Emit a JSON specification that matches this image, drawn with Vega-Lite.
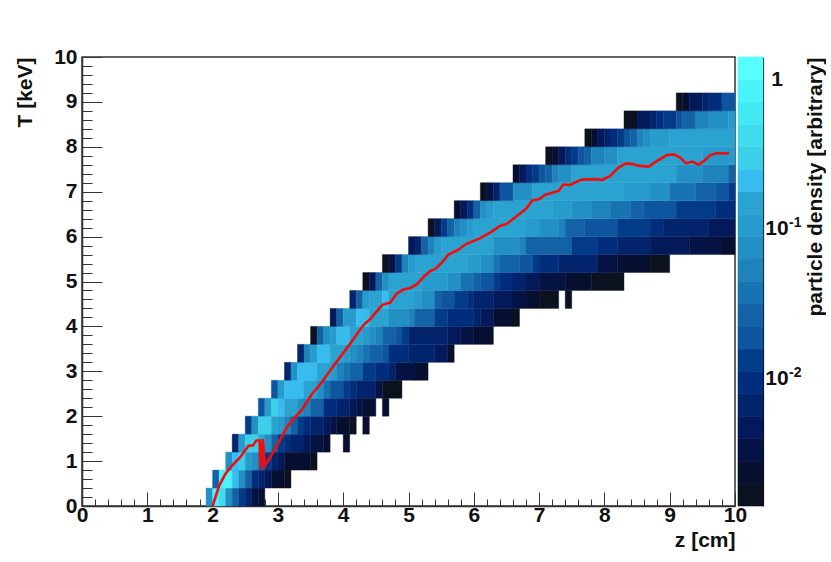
{"$schema":"https://vega.github.io/schema/vega-lite/v6.json","padding":{"left":13,"top":45,"right":0,"bottom":0},"background":"white","config":{"font":"Liberation Sans","axis":{"grid":false,"labelFontWeight":"bold","titleFontWeight":"bold","labelFontSize":21,"titleFontSize":21,"labelColor":"#111","titleColor":"#111","zindex":1}},"bounds":"flush","spacing":3,"hconcat":[{"width":653,"height":449,"view":{"stroke":"#333","strokeWidth":1.5},"layer":[{"data":{"values":[
{"z0":1.9,"z1":2,"t0":0,"t1":0.4,"d":0.072},{"z0":2,"z1":2.1,"t0":0,"t1":0.4,"d":0.8},{"z0":2.1,"z1":2.2,"t0":0,"t1":0.4,"d":0.4},{"z0":2.2,"z1":2.3,"t0":0,"t1":0.4,"d":0.072},{"z0":2.3,"z1":2.4,"t0":0,"t1":0.4,"d":0.0254},{"z0":2.4,"z1":2.5,"t0":0,"t1":0.4,"d":0.0127},{"z0":2.5,"z1":2.6,"t0":0,"t1":0.4,"d":0.0064},{"z0":2.6,"z1":2.7,"t0":0,"t1":0.4,"d":0.0032},{"z0":2.7,"z1":2.8,"t0":0,"t1":0.4,"d":0.0023},
{"z0":2,"z1":2.1,"t0":0.4,"t1":0.8,"d":0.0254},{"z0":2.1,"z1":2.3,"t0":0.4,"t1":0.8,"d":0.8},{"z0":2.3,"z1":2.4,"t0":0.4,"t1":0.8,"d":0.2},{"z0":2.4,"z1":2.5,"t0":0.4,"t1":0.8,"d":0.072},{"z0":2.5,"z1":2.6,"t0":0.4,"t1":0.8,"d":0.0254},{"z0":2.6,"z1":2.7,"t0":0.4,"t1":0.8,"d":0.009},{"z0":2.7,"z1":2.8,"t0":0.4,"t1":0.8,"d":0.0064},{"z0":2.8,"z1":2.9,"t0":0.4,"t1":0.8,"d":0.0045},{"z0":2.9,"z1":3.1,"t0":0.4,"t1":0.8,"d":0.0023},{"z0":3.1,"z1":3.2,"t0":0.4,"t1":0.8,"d":0.0016},
{"z0":2.2,"z1":2.3,"t0":0.8,"t1":1.2,"d":0.072},{"z0":2.3,"z1":2.4,"t0":0.8,"t1":1.2,"d":0.2},{"z0":2.4,"z1":2.5,"t0":0.8,"t1":1.2,"d":0.29},{"z0":2.5,"z1":2.6,"t0":0.8,"t1":1.2,"d":0.1},{"z0":2.6,"z1":2.7,"t0":0.8,"t1":1.2,"d":0.072},{"z0":2.7,"z1":2.8,"t0":0.8,"t1":1.2,"d":0.0254},{"z0":2.8,"z1":2.9,"t0":0.8,"t1":1.2,"d":0.0127},{"z0":2.9,"z1":3,"t0":0.8,"t1":1.2,"d":0.0064},{"z0":3,"z1":3.1,"t0":0.8,"t1":1.2,"d":0.0045},{"z0":3.1,"z1":3.5,"t0":0.8,"t1":1.2,"d":0.0023},{"z0":3.5,"z1":3.6,"t0":0.8,"t1":1.2,"d":0.0016},
{"z0":2.3,"z1":2.4,"t0":1.2,"t1":1.6,"d":0.0064},{"z0":2.4,"z1":2.5,"t0":1.2,"t1":1.6,"d":0.1},{"z0":2.5,"z1":2.7,"t0":1.2,"t1":1.6,"d":0.29},{"z0":2.7,"z1":2.8,"t0":1.2,"t1":1.6,"d":0.14},{"z0":2.8,"z1":2.9,"t0":1.2,"t1":1.6,"d":0.072},{"z0":2.9,"z1":3,"t0":1.2,"t1":1.6,"d":0.0254},{"z0":3,"z1":3.1,"t0":1.2,"t1":1.6,"d":0.0127},{"z0":3.1,"z1":3.2,"t0":1.2,"t1":1.6,"d":0.009},{"z0":3.2,"z1":3.4,"t0":1.2,"t1":1.6,"d":0.0064},{"z0":3.4,"z1":3.5,"t0":1.2,"t1":1.6,"d":0.0045},{"z0":3.5,"z1":3.7,"t0":1.2,"t1":1.6,"d":0.0032},{"z0":3.7,"z1":3.8,"t0":1.2,"t1":1.6,"d":0.0023},{"z0":4,"z1":4.1,"t0":1.2,"t1":1.6,"d":0.0023},
{"z0":2.5,"z1":2.6,"t0":1.6,"t1":2,"d":0.0127},{"z0":2.6,"z1":2.7,"t0":1.6,"t1":2,"d":0.072},{"z0":2.7,"z1":2.9,"t0":1.6,"t1":2,"d":0.29},{"z0":2.9,"z1":3,"t0":1.6,"t1":2,"d":0.14},{"z0":3,"z1":3.1,"t0":1.6,"t1":2,"d":0.1},{"z0":3.1,"z1":3.2,"t0":1.6,"t1":2,"d":0.05},{"z0":3.2,"z1":3.3,"t0":1.6,"t1":2,"d":0.0254},{"z0":3.3,"z1":3.4,"t0":1.6,"t1":2,"d":0.0127},{"z0":3.4,"z1":3.5,"t0":1.6,"t1":2,"d":0.009},{"z0":3.5,"z1":3.7,"t0":1.6,"t1":2,"d":0.0064},{"z0":3.7,"z1":3.8,"t0":1.6,"t1":2,"d":0.0045},{"z0":3.8,"z1":3.9,"t0":1.6,"t1":2,"d":0.0032},{"z0":3.9,"z1":4.1,"t0":1.6,"t1":2,"d":0.0023},{"z0":4.1,"z1":4.2,"t0":1.6,"t1":2,"d":0.0016},{"z0":4.3,"z1":4.4,"t0":1.6,"t1":2,"d":0.0023},
{"z0":2.7,"z1":2.8,"t0":2,"t1":2.4,"d":0.018},{"z0":2.8,"z1":2.9,"t0":2,"t1":2.4,"d":0.1},{"z0":2.9,"z1":3,"t0":2,"t1":2.4,"d":0.29},{"z0":3,"z1":3.1,"t0":2,"t1":2.4,"d":0.2},{"z0":3.1,"z1":3.3,"t0":2,"t1":2.4,"d":0.14},{"z0":3.3,"z1":3.4,"t0":2,"t1":2.4,"d":0.072},{"z0":3.4,"z1":3.5,"t0":2,"t1":2.4,"d":0.05},{"z0":3.5,"z1":3.7,"t0":2,"t1":2.4,"d":0.0254},{"z0":3.7,"z1":3.9,"t0":2,"t1":2.4,"d":0.009},{"z0":3.9,"z1":4.1,"t0":2,"t1":2.4,"d":0.0064},{"z0":4.1,"z1":4.2,"t0":2,"t1":2.4,"d":0.0045},{"z0":4.2,"z1":4.3,"t0":2,"t1":2.4,"d":0.0032},{"z0":4.3,"z1":4.5,"t0":2,"t1":2.4,"d":0.0023},{"z0":4.6,"z1":4.7,"t0":2,"t1":2.4,"d":0.0023},
{"z0":2.9,"z1":3,"t0":2.4,"t1":2.8,"d":0.018},{"z0":3,"z1":3.1,"t0":2.4,"t1":2.8,"d":0.1},{"z0":3.1,"z1":3.4,"t0":2.4,"t1":2.8,"d":0.2},{"z0":3.4,"z1":3.6,"t0":2.4,"t1":2.8,"d":0.14},{"z0":3.6,"z1":3.7,"t0":2.4,"t1":2.8,"d":0.072},{"z0":3.7,"z1":3.8,"t0":2.4,"t1":2.8,"d":0.036},{"z0":3.8,"z1":4,"t0":2.4,"t1":2.8,"d":0.018},{"z0":4,"z1":4.1,"t0":2.4,"t1":2.8,"d":0.0127},{"z0":4.1,"z1":4.2,"t0":2.4,"t1":2.8,"d":0.009},{"z0":4.2,"z1":4.5,"t0":2.4,"t1":2.8,"d":0.0064},{"z0":4.5,"z1":4.6,"t0":2.4,"t1":2.8,"d":0.0032},{"z0":4.6,"z1":4.9,"t0":2.4,"t1":2.8,"d":0.0016},
{"z0":3.1,"z1":3.2,"t0":2.8,"t1":3.2,"d":0.0064},{"z0":3.2,"z1":3.3,"t0":2.8,"t1":3.2,"d":0.072},{"z0":3.3,"z1":3.6,"t0":2.8,"t1":3.2,"d":0.2},{"z0":3.6,"z1":3.8,"t0":2.8,"t1":3.2,"d":0.14},{"z0":3.8,"z1":3.9,"t0":2.8,"t1":3.2,"d":0.1},{"z0":3.9,"z1":4,"t0":2.8,"t1":3.2,"d":0.05},{"z0":4,"z1":4.1,"t0":2.8,"t1":3.2,"d":0.036},{"z0":4.1,"z1":4.3,"t0":2.8,"t1":3.2,"d":0.0254},{"z0":4.3,"z1":4.5,"t0":2.8,"t1":3.2,"d":0.0127},{"z0":4.5,"z1":4.7,"t0":2.8,"t1":3.2,"d":0.009},{"z0":4.7,"z1":4.8,"t0":2.8,"t1":3.2,"d":0.0064},{"z0":4.8,"z1":5.1,"t0":2.8,"t1":3.2,"d":0.0032},{"z0":5.1,"z1":5.3,"t0":2.8,"t1":3.2,"d":0.0023},
{"z0":3.3,"z1":3.4,"t0":3.2,"t1":3.6,"d":0.0064},{"z0":3.4,"z1":3.5,"t0":3.2,"t1":3.6,"d":0.05},{"z0":3.5,"z1":3.6,"t0":3.2,"t1":3.6,"d":0.1},{"z0":3.6,"z1":3.8,"t0":3.2,"t1":3.6,"d":0.2},{"z0":3.8,"z1":4,"t0":3.2,"t1":3.6,"d":0.14},{"z0":4,"z1":4.1,"t0":3.2,"t1":3.6,"d":0.1},{"z0":4.1,"z1":4.2,"t0":3.2,"t1":3.6,"d":0.072},{"z0":4.2,"z1":4.3,"t0":3.2,"t1":3.6,"d":0.05},{"z0":4.3,"z1":4.4,"t0":3.2,"t1":3.6,"d":0.036},{"z0":4.4,"z1":4.6,"t0":3.2,"t1":3.6,"d":0.0254},{"z0":4.6,"z1":4.7,"t0":3.2,"t1":3.6,"d":0.018},{"z0":4.7,"z1":5,"t0":3.2,"t1":3.6,"d":0.009},{"z0":5,"z1":5.4,"t0":3.2,"t1":3.6,"d":0.0064},{"z0":5.4,"z1":5.6,"t0":3.2,"t1":3.6,"d":0.0045},{"z0":5.6,"z1":5.7,"t0":3.2,"t1":3.6,"d":0.0023},
{"z0":3.5,"z1":3.6,"t0":3.6,"t1":4,"d":0.0016},{"z0":3.6,"z1":3.7,"t0":3.6,"t1":4,"d":0.0254},{"z0":3.7,"z1":3.8,"t0":3.6,"t1":4,"d":0.072},{"z0":3.8,"z1":3.9,"t0":3.6,"t1":4,"d":0.1},{"z0":3.9,"z1":4.1,"t0":3.6,"t1":4,"d":0.2},{"z0":4.1,"z1":4.3,"t0":3.6,"t1":4,"d":0.14},{"z0":4.3,"z1":4.4,"t0":3.6,"t1":4,"d":0.1},{"z0":4.4,"z1":4.5,"t0":3.6,"t1":4,"d":0.072},{"z0":4.5,"z1":4.6,"t0":3.6,"t1":4,"d":0.05},{"z0":4.6,"z1":4.8,"t0":3.6,"t1":4,"d":0.0254},{"z0":4.8,"z1":4.9,"t0":3.6,"t1":4,"d":0.018},{"z0":4.9,"z1":5,"t0":3.6,"t1":4,"d":0.0127},{"z0":5,"z1":5.6,"t0":3.6,"t1":4,"d":0.0064},{"z0":5.6,"z1":5.8,"t0":3.6,"t1":4,"d":0.0045},{"z0":5.8,"z1":6,"t0":3.6,"t1":4,"d":0.0032},{"z0":6,"z1":6.3,"t0":3.6,"t1":4,"d":0.0023},
{"z0":3.8,"z1":3.9,"t0":4,"t1":4.4,"d":0.0045},{"z0":3.9,"z1":4,"t0":4,"t1":4.4,"d":0.0254},{"z0":4,"z1":4.2,"t0":4,"t1":4.4,"d":0.1},{"z0":4.2,"z1":4.4,"t0":4,"t1":4.4,"d":0.2},{"z0":4.4,"z1":4.7,"t0":4,"t1":4.4,"d":0.14},{"z0":4.7,"z1":5,"t0":4,"t1":4.4,"d":0.072},{"z0":5,"z1":5.1,"t0":4,"t1":4.4,"d":0.05},{"z0":5.1,"z1":5.4,"t0":4,"t1":4.4,"d":0.0254},{"z0":5.4,"z1":5.6,"t0":4,"t1":4.4,"d":0.0127},{"z0":5.6,"z1":6,"t0":4,"t1":4.4,"d":0.009},{"z0":6,"z1":6.1,"t0":4,"t1":4.4,"d":0.0064},{"z0":6.1,"z1":6.3,"t0":4,"t1":4.4,"d":0.0045},{"z0":6.3,"z1":6.6,"t0":4,"t1":4.4,"d":0.0023},{"z0":6.6,"z1":6.7,"t0":4,"t1":4.4,"d":0.0016},
{"z0":4.1,"z1":4.2,"t0":4.4,"t1":4.8,"d":0.0064},{"z0":4.2,"z1":4.3,"t0":4.4,"t1":4.8,"d":0.0254},{"z0":4.3,"z1":4.4,"t0":4.4,"t1":4.8,"d":0.1},{"z0":4.4,"z1":4.6,"t0":4.4,"t1":4.8,"d":0.14},{"z0":4.6,"z1":4.7,"t0":4.4,"t1":4.8,"d":0.2},{"z0":4.7,"z1":5.1,"t0":4.4,"t1":4.8,"d":0.14},{"z0":5.1,"z1":5.2,"t0":4.4,"t1":4.8,"d":0.1},{"z0":5.2,"z1":5.4,"t0":4.4,"t1":4.8,"d":0.072},{"z0":5.4,"z1":5.5,"t0":4.4,"t1":4.8,"d":0.0254},{"z0":5.5,"z1":5.7,"t0":4.4,"t1":4.8,"d":0.018},{"z0":5.7,"z1":5.9,"t0":4.4,"t1":4.8,"d":0.0127},{"z0":5.9,"z1":6,"t0":4.4,"t1":4.8,"d":0.009},{"z0":6,"z1":6.3,"t0":4.4,"t1":4.8,"d":0.0064},{"z0":6.3,"z1":6.6,"t0":4.4,"t1":4.8,"d":0.0045},{"z0":6.6,"z1":6.8,"t0":4.4,"t1":4.8,"d":0.0032},{"z0":6.8,"z1":7,"t0":4.4,"t1":4.8,"d":0.0023},{"z0":7,"z1":7.3,"t0":4.4,"t1":4.8,"d":0.0016},{"z0":7.4,"z1":7.5,"t0":4.4,"t1":4.8,"d":0.0016},
{"z0":4.3,"z1":4.4,"t0":4.8,"t1":5.2,"d":0.0016},{"z0":4.4,"z1":4.5,"t0":4.8,"t1":5.2,"d":0.0045},{"z0":4.5,"z1":4.6,"t0":4.8,"t1":5.2,"d":0.0254},{"z0":4.6,"z1":4.7,"t0":4.8,"t1":5.2,"d":0.072},{"z0":4.7,"z1":5.2,"t0":4.8,"t1":5.2,"d":0.14},{"z0":5.2,"z1":5.6,"t0":4.8,"t1":5.2,"d":0.1},{"z0":5.6,"z1":5.8,"t0":4.8,"t1":5.2,"d":0.072},{"z0":5.8,"z1":6,"t0":4.8,"t1":5.2,"d":0.036},{"z0":6,"z1":6.1,"t0":4.8,"t1":5.2,"d":0.0254},{"z0":6.1,"z1":6.3,"t0":4.8,"t1":5.2,"d":0.018},{"z0":6.3,"z1":6.4,"t0":4.8,"t1":5.2,"d":0.0127},{"z0":6.4,"z1":6.6,"t0":4.8,"t1":5.2,"d":0.009},{"z0":6.6,"z1":6.8,"t0":4.8,"t1":5.2,"d":0.0064},{"z0":6.8,"z1":7,"t0":4.8,"t1":5.2,"d":0.0045},{"z0":7,"z1":7.4,"t0":4.8,"t1":5.2,"d":0.0032},{"z0":7.4,"z1":7.8,"t0":4.8,"t1":5.2,"d":0.0023},{"z0":7.8,"z1":8.3,"t0":4.8,"t1":5.2,"d":0.0016},
{"z0":4.6,"z1":4.7,"t0":5.2,"t1":5.6,"d":0.0016},{"z0":4.7,"z1":4.8,"t0":5.2,"t1":5.6,"d":0.0032},{"z0":4.8,"z1":4.9,"t0":5.2,"t1":5.6,"d":0.0127},{"z0":4.9,"z1":5,"t0":5.2,"t1":5.6,"d":0.05},{"z0":5,"z1":5.1,"t0":5.2,"t1":5.6,"d":0.1},{"z0":5.1,"z1":5.9,"t0":5.2,"t1":5.6,"d":0.14},{"z0":5.9,"z1":6.1,"t0":5.2,"t1":5.6,"d":0.1},{"z0":6.1,"z1":6.3,"t0":5.2,"t1":5.6,"d":0.072},{"z0":6.3,"z1":6.4,"t0":5.2,"t1":5.6,"d":0.036},{"z0":6.4,"z1":6.7,"t0":5.2,"t1":5.6,"d":0.0254},{"z0":6.7,"z1":6.9,"t0":5.2,"t1":5.6,"d":0.018},{"z0":6.9,"z1":7,"t0":5.2,"t1":5.6,"d":0.0127},{"z0":7,"z1":7.3,"t0":5.2,"t1":5.6,"d":0.009},{"z0":7.3,"z1":7.9,"t0":5.2,"t1":5.6,"d":0.0064},{"z0":7.9,"z1":8.2,"t0":5.2,"t1":5.6,"d":0.0032},{"z0":8.2,"z1":8.7,"t0":5.2,"t1":5.6,"d":0.0023},{"z0":8.7,"z1":9,"t0":5.2,"t1":5.6,"d":0.0016},
{"z0":5,"z1":5.1,"t0":5.6,"t1":6,"d":0.0045},{"z0":5.1,"z1":5.2,"t0":5.6,"t1":6,"d":0.0064},{"z0":5.2,"z1":5.3,"t0":5.6,"t1":6,"d":0.0254},{"z0":5.3,"z1":5.4,"t0":5.6,"t1":6,"d":0.05},{"z0":5.4,"z1":5.5,"t0":5.6,"t1":6,"d":0.1},{"z0":5.5,"z1":6.3,"t0":5.6,"t1":6,"d":0.14},{"z0":6.3,"z1":6.7,"t0":5.6,"t1":6,"d":0.072},{"z0":6.7,"z1":6.8,"t0":5.6,"t1":6,"d":0.05},{"z0":6.8,"z1":7.5,"t0":5.6,"t1":6,"d":0.0254},{"z0":7.5,"z1":7.9,"t0":5.6,"t1":6,"d":0.0127},{"z0":7.9,"z1":8.2,"t0":5.6,"t1":6,"d":0.009},{"z0":8.2,"z1":8.7,"t0":5.6,"t1":6,"d":0.0064},{"z0":8.7,"z1":9.3,"t0":5.6,"t1":6,"d":0.0045},{"z0":9.3,"z1":9.8,"t0":5.6,"t1":6,"d":0.0032},{"z0":9.8,"z1":10,"t0":5.6,"t1":6,"d":0.0023},
{"z0":5.3,"z1":5.4,"t0":6,"t1":6.4,"d":0.0016},{"z0":5.4,"z1":5.5,"t0":6,"t1":6.4,"d":0.0045},{"z0":5.5,"z1":5.6,"t0":6,"t1":6.4,"d":0.0127},{"z0":5.6,"z1":5.7,"t0":6,"t1":6.4,"d":0.0254},{"z0":5.7,"z1":5.8,"t0":6,"t1":6.4,"d":0.05},{"z0":5.8,"z1":5.9,"t0":6,"t1":6.4,"d":0.072},{"z0":5.9,"z1":6,"t0":6,"t1":6.4,"d":0.1},{"z0":6,"z1":6.8,"t0":6,"t1":6.4,"d":0.14},{"z0":6.8,"z1":7,"t0":6,"t1":6.4,"d":0.1},{"z0":7,"z1":7.3,"t0":6,"t1":6.4,"d":0.072},{"z0":7.3,"z1":7.4,"t0":6,"t1":6.4,"d":0.05},{"z0":7.4,"z1":7.7,"t0":6,"t1":6.4,"d":0.0254},{"z0":7.7,"z1":8.2,"t0":6,"t1":6.4,"d":0.018},{"z0":8.2,"z1":8.7,"t0":6,"t1":6.4,"d":0.0127},{"z0":8.7,"z1":8.9,"t0":6,"t1":6.4,"d":0.009},{"z0":8.9,"z1":9.6,"t0":6,"t1":6.4,"d":0.0064},{"z0":9.6,"z1":10,"t0":6,"t1":6.4,"d":0.0045},
{"z0":5.7,"z1":5.8,"t0":6.4,"t1":6.8,"d":0.0023},{"z0":5.8,"z1":5.9,"t0":6.4,"t1":6.8,"d":0.0045},{"z0":5.9,"z1":6,"t0":6.4,"t1":6.8,"d":0.009},{"z0":6,"z1":6.1,"t0":6.4,"t1":6.8,"d":0.0254},{"z0":6.1,"z1":6.2,"t0":6.4,"t1":6.8,"d":0.072},{"z0":6.2,"z1":6.3,"t0":6.4,"t1":6.8,"d":0.1},{"z0":6.3,"z1":7.2,"t0":6.4,"t1":6.8,"d":0.14},{"z0":7.2,"z1":7.5,"t0":6.4,"t1":6.8,"d":0.1},{"z0":7.5,"z1":7.8,"t0":6.4,"t1":6.8,"d":0.072},{"z0":7.8,"z1":8.1,"t0":6.4,"t1":6.8,"d":0.05},{"z0":8.1,"z1":8.4,"t0":6.4,"t1":6.8,"d":0.036},{"z0":8.4,"z1":8.6,"t0":6.4,"t1":6.8,"d":0.0254},{"z0":8.6,"z1":9.1,"t0":6.4,"t1":6.8,"d":0.018},{"z0":9.1,"z1":9.7,"t0":6.4,"t1":6.8,"d":0.0127},{"z0":9.7,"z1":10,"t0":6.4,"t1":6.8,"d":0.009},
{"z0":6.1,"z1":6.2,"t0":6.8,"t1":7.2,"d":0.0016},{"z0":6.2,"z1":6.3,"t0":6.8,"t1":7.2,"d":0.0032},{"z0":6.3,"z1":6.4,"t0":6.8,"t1":7.2,"d":0.0064},{"z0":6.4,"z1":6.6,"t0":6.8,"t1":7.2,"d":0.018},{"z0":6.6,"z1":6.9,"t0":6.8,"t1":7.2,"d":0.072},{"z0":6.9,"z1":8.3,"t0":6.8,"t1":7.2,"d":0.14},{"z0":8.3,"z1":8.7,"t0":6.8,"t1":7.2,"d":0.1},{"z0":8.7,"z1":9,"t0":6.8,"t1":7.2,"d":0.072},{"z0":9,"z1":9.4,"t0":6.8,"t1":7.2,"d":0.036},{"z0":9.4,"z1":9.7,"t0":6.8,"t1":7.2,"d":0.0254},{"z0":9.7,"z1":9.9,"t0":6.8,"t1":7.2,"d":0.018},{"z0":9.9,"z1":10,"t0":6.8,"t1":7.2,"d":0.0127},
{"z0":6.6,"z1":6.7,"t0":7.2,"t1":7.6,"d":0.0023},{"z0":6.7,"z1":6.8,"t0":7.2,"t1":7.6,"d":0.0045},{"z0":6.8,"z1":6.9,"t0":7.2,"t1":7.6,"d":0.009},{"z0":6.9,"z1":7,"t0":7.2,"t1":7.6,"d":0.0127},{"z0":7,"z1":7.1,"t0":7.2,"t1":7.6,"d":0.018},{"z0":7.1,"z1":7.2,"t0":7.2,"t1":7.6,"d":0.0254},{"z0":7.2,"z1":7.3,"t0":7.2,"t1":7.6,"d":0.05},{"z0":7.3,"z1":7.5,"t0":7.2,"t1":7.6,"d":0.072},{"z0":7.5,"z1":9.1,"t0":7.2,"t1":7.6,"d":0.14},{"z0":9.1,"z1":9.5,"t0":7.2,"t1":7.6,"d":0.072},{"z0":9.5,"z1":9.9,"t0":7.2,"t1":7.6,"d":0.05},{"z0":9.9,"z1":10,"t0":7.2,"t1":7.6,"d":0.0254},
{"z0":7.1,"z1":7.2,"t0":7.6,"t1":8,"d":0.0016},{"z0":7.2,"z1":7.3,"t0":7.6,"t1":8,"d":0.0023},{"z0":7.3,"z1":7.4,"t0":7.6,"t1":8,"d":0.0045},{"z0":7.4,"z1":7.5,"t0":7.6,"t1":8,"d":0.009},{"z0":7.5,"z1":7.6,"t0":7.6,"t1":8,"d":0.0127},{"z0":7.6,"z1":7.7,"t0":7.6,"t1":8,"d":0.018},{"z0":7.7,"z1":7.8,"t0":7.6,"t1":8,"d":0.0254},{"z0":7.8,"z1":8,"t0":7.6,"t1":8,"d":0.05},{"z0":8,"z1":8.2,"t0":7.6,"t1":8,"d":0.072},{"z0":8.2,"z1":9.5,"t0":7.6,"t1":8,"d":0.14},{"z0":9.5,"z1":10,"t0":7.6,"t1":8,"d":0.1},
{"z0":7.7,"z1":7.8,"t0":8,"t1":8.4,"d":0.0016},{"z0":7.8,"z1":7.9,"t0":8,"t1":8.4,"d":0.0023},{"z0":7.9,"z1":8,"t0":8,"t1":8.4,"d":0.0045},{"z0":8,"z1":8.1,"t0":8,"t1":8.4,"d":0.0064},{"z0":8.1,"z1":8.2,"t0":8,"t1":8.4,"d":0.009},{"z0":8.2,"z1":8.3,"t0":8,"t1":8.4,"d":0.0127},{"z0":8.3,"z1":8.4,"t0":8,"t1":8.4,"d":0.018},{"z0":8.4,"z1":8.5,"t0":8,"t1":8.4,"d":0.0254},{"z0":8.5,"z1":8.6,"t0":8,"t1":8.4,"d":0.05},{"z0":8.6,"z1":8.7,"t0":8,"t1":8.4,"d":0.072},{"z0":8.7,"z1":9,"t0":8,"t1":8.4,"d":0.1},{"z0":9,"z1":10,"t0":8,"t1":8.4,"d":0.14},
{"z0":8.3,"z1":8.5,"t0":8.4,"t1":8.8,"d":0.0016},{"z0":8.5,"z1":8.7,"t0":8.4,"t1":8.8,"d":0.0045},{"z0":8.7,"z1":8.8,"t0":8.4,"t1":8.8,"d":0.0064},{"z0":8.8,"z1":8.9,"t0":8.4,"t1":8.8,"d":0.009},{"z0":8.9,"z1":9.1,"t0":8.4,"t1":8.8,"d":0.0127},{"z0":9.1,"z1":9.2,"t0":8.4,"t1":8.8,"d":0.018},{"z0":9.2,"z1":9.4,"t0":8.4,"t1":8.8,"d":0.0254},{"z0":9.4,"z1":9.6,"t0":8.4,"t1":8.8,"d":0.05},{"z0":9.6,"z1":9.9,"t0":8.4,"t1":8.8,"d":0.072},{"z0":9.9,"z1":10,"t0":8.4,"t1":8.8,"d":0.1},
{"z0":9.1,"z1":9.2,"t0":8.8,"t1":9.2,"d":0.0016},{"z0":9.2,"z1":9.3,"t0":8.8,"t1":9.2,"d":0.0023},{"z0":9.3,"z1":9.5,"t0":8.8,"t1":9.2,"d":0.0045},{"z0":9.5,"z1":9.6,"t0":8.8,"t1":9.2,"d":0.0064},{"z0":9.6,"z1":9.8,"t0":8.8,"t1":9.2,"d":0.009},{"z0":9.8,"z1":10,"t0":8.8,"t1":9.2,"d":0.018}
]},"mark":{"type":"rect","strokeWidth":0.4},"encoding":{"x":{"field":"z0","type":"quantitative","scale":{"domain":[0,10],"nice":false},"axis":{"tickCount":60,"values":[0,0.2,0.4,0.6,0.8,1,1.2,1.4,1.6,1.8,2,2.2,2.4,2.6,2.8,3,3.2,3.4,3.6,3.8,4,4.2,4.4,4.6,4.8,5,5.2,5.4,5.6,5.8,6,6.2,6.4,6.6,6.8,7,7.2,7.4,7.6,7.8,8,8.2,8.4,8.6,8.8,9,9.2,9.4,9.6,9.8,10],"labelExpr":"abs(datum.value-round(datum.value))<0.001?round(datum.value):''","tickSize":{"condition":{"test":"abs(datum.value-round(datum.value))<0.001","value":-14},"value":-7},"tickColor":"#333","domainColor":"#333","domainWidth":1.5,"labelPadding":12.5,"labelFlush":false,"labelOverlap":false,"title":"z [cm]","titleAnchor":"end","titlePadding":-3}},"x2":{"field":"z1"},"y":{"field":"t0","type":"quantitative","scale":{"domain":[0,10],"nice":false},"axis":{"tickCount":60,"values":[0,0.2,0.4,0.6,0.8,1,1.2,1.4,1.6,1.8,2,2.2,2.4,2.6,2.8,3,3.2,3.4,3.6,3.8,4,4.2,4.4,4.6,4.8,5,5.2,5.4,5.6,5.8,6,6.2,6.4,6.6,6.8,7,7.2,7.4,7.6,7.8,8,8.2,8.4,8.6,8.8,9,9.2,9.4,9.6,9.8,10],"labelExpr":"abs(datum.value-round(datum.value))<0.001?round(datum.value):''","tickSize":{"condition":{"test":"abs(datum.value-round(datum.value))<0.001","value":-20},"value":-10},"tickColor":"#333","domainColor":"#333","domainWidth":1.5,"labelPadding":25,"labelFlush":false,"labelOverlap":false,"title":"T [keV]","titleAnchor":"end","titlePadding":18}},"y2":{"field":"t1"},"color":{"field":"d","type":"quantitative","legend":null,"scale":{"type":"threshold","domain":[0.00191,0.00269,0.0038,0.00537,0.00759,0.0107,0.0151,0.0214,0.0302,0.0427,0.0603,0.0851,0.12,0.17,0.24,0.339,0.479,0.676,0.955],"range":["#0b111f","#070f30","#051244","#03195a","#01246c","#002d7c","#023b88","#0d559f","#1362a6","#1873b3","#1e82bb","#2290c4","#269bcc","#2aa3d0","#38bcef","#3bcfe9","#3fdcee","#43e8f3","#4af3f9","#57ffff"]}},"stroke":{"field":"d","type":"quantitative","legend":null,"scale":{"type":"threshold","domain":[0.00191,0.00269,0.0038,0.00537,0.00759,0.0107,0.0151,0.0214,0.0302,0.0427,0.0603,0.0851,0.12,0.17,0.24,0.339,0.479,0.676,0.955],"range":["#0b111f","#070f30","#051244","#03195a","#01246c","#002d7c","#023b88","#0d559f","#1362a6","#1873b3","#1e82bb","#2290c4","#269bcc","#2aa3d0","#38bcef","#3bcfe9","#3fdcee","#43e8f3","#4af3f9","#57ffff"]}}}},{"data":{"values":[{"z":2,"T":0},{"z":2.1,"T":0.45},{"z":2.19,"T":0.7},{"z":2.29,"T":0.89},{"z":2.42,"T":1.08},{"z":2.5,"T":1.24},{"z":2.55,"T":1.34},{"z":2.62,"T":1.35},{"z":2.67,"T":1.46},{"z":2.72,"T":1.46},{"z":2.74,"T":0.82},{"z":2.77,"T":1.49},{"z":2.8,"T":0.89},{"z":2.88,"T":1.08},{"z":3.01,"T":1.41},{"z":3.13,"T":1.74},{"z":3.26,"T":1.98},{"z":3.36,"T":2.13},{"z":3.52,"T":2.49},{"z":3.67,"T":2.75},{"z":3.85,"T":3.12},{"z":4.1,"T":3.6},{"z":4.31,"T":4.03},{"z":4.41,"T":4.16},{"z":4.6,"T":4.48},{"z":4.72,"T":4.53},{"z":4.82,"T":4.73},{"z":4.92,"T":4.82},{"z":5.02,"T":4.85},{"z":5.13,"T":4.94},{"z":5.23,"T":5.1},{"z":5.33,"T":5.23},{"z":5.41,"T":5.28},{"z":5.51,"T":5.42},{"z":5.61,"T":5.6},{"z":5.74,"T":5.69},{"z":5.89,"T":5.84},{"z":6.09,"T":5.96},{"z":6.25,"T":6.09},{"z":6.4,"T":6.24},{"z":6.5,"T":6.28},{"z":6.66,"T":6.46},{"z":6.8,"T":6.62},{"z":6.9,"T":6.81},{"z":7,"T":6.83},{"z":7.09,"T":6.93},{"z":7.3,"T":7.02},{"z":7.37,"T":7.16},{"z":7.47,"T":7.15},{"z":7.65,"T":7.27},{"z":7.88,"T":7.28},{"z":7.96,"T":7.26},{"z":8.09,"T":7.35},{"z":8.21,"T":7.53},{"z":8.33,"T":7.63},{"z":8.42,"T":7.62},{"z":8.52,"T":7.58},{"z":8.68,"T":7.56},{"z":8.8,"T":7.68},{"z":8.95,"T":7.81},{"z":9.06,"T":7.83},{"z":9.16,"T":7.76},{"z":9.25,"T":7.63},{"z":9.35,"T":7.67},{"z":9.44,"T":7.6},{"z":9.52,"T":7.68},{"z":9.62,"T":7.81},{"z":9.72,"T":7.86},{"z":9.82,"T":7.85},{"z":9.91,"T":7.86}]},"mark":{"type":"line","color":"#f20d0d","strokeWidth":2.6,"interpolate":"linear"},"encoding":{"x":{"field":"z","type":"quantitative"},"y":{"field":"T","type":"quantitative"}}}]},{"width":25,"height":449,"view":{"stroke":null},"layer":[{"data":{"values":[{"lo":0.00135,"hi":0.00191,"d":0.0016},{"lo":0.00191,"hi":0.00269,"d":0.0023},{"lo":0.00269,"hi":0.0038,"d":0.0032},{"lo":0.0038,"hi":0.00537,"d":0.0045},{"lo":0.00537,"hi":0.00759,"d":0.0064},{"lo":0.00759,"hi":0.0107,"d":0.009},{"lo":0.0107,"hi":0.0151,"d":0.0127},{"lo":0.0151,"hi":0.0214,"d":0.018},{"lo":0.0214,"hi":0.0302,"d":0.0254},{"lo":0.0302,"hi":0.0427,"d":0.036},{"lo":0.0427,"hi":0.0603,"d":0.05},{"lo":0.0603,"hi":0.0851,"d":0.072},{"lo":0.0851,"hi":0.12,"d":0.1},{"lo":0.12,"hi":0.17,"d":0.14},{"lo":0.17,"hi":0.24,"d":0.2},{"lo":0.24,"hi":0.339,"d":0.29},{"lo":0.339,"hi":0.479,"d":0.4},{"lo":0.479,"hi":0.676,"d":0.57},{"lo":0.676,"hi":0.955,"d":0.8},{"lo":0.955,"hi":1.35,"d":1.1}]},"mark":{"type":"rect","strokeWidth":0.6},"encoding":{"y":{"field":"lo","type":"quantitative","scale":{"type":"log","domain":[0.00135,1.35],"nice":false},"axis":{"tickCount":60,"orient":"right","values":[1,0.9,0.8,0.7,0.6,0.5,0.4,0.3,0.2,0.1,0.09,0.08,0.07,0.06,0.05,0.04,0.03,0.02,0.01,0.009,0.008,0.007,0.006,0.005,0.004,0.003,0.002],"labelExpr":"datum.value==1?'1':(datum.value==0.1||datum.value==0.01)?'10':''","tickSize":{"condition":{"test":"datum.value==1||datum.value==0.1||datum.value==0.01","value":-20},"value":-10},"tickOpacity":{"condition":{"test":"datum.value==1","value":0},"value":1},"tickColor":"#222","domainColor":"#111","domainWidth":1.2,"labelAlign":"center","labelPadding":33.5,"labelOffset":2.5,"labelFlush":false,"labelOverlap":false,"title":"particle density [arbitrary]","titleAnchor":"end","titleAngle":270,"titlePadding":37}},"y2":{"field":"hi"},"color":{"field":"d","type":"quantitative","legend":null,"scale":{"type":"threshold","domain":[0.00191,0.00269,0.0038,0.00537,0.00759,0.0107,0.0151,0.0214,0.0302,0.0427,0.0603,0.0851,0.12,0.17,0.24,0.339,0.479,0.676,0.955],"range":["#0b111f","#070f30","#051244","#03195a","#01246c","#002d7c","#023b88","#0d559f","#1362a6","#1873b3","#1e82bb","#2290c4","#269bcc","#2aa3d0","#38bcef","#3bcfe9","#3fdcee","#43e8f3","#4af3f9","#57ffff"]}},"stroke":{"field":"d","type":"quantitative","legend":null,"scale":{"type":"threshold","domain":[0.00191,0.00269,0.0038,0.00537,0.00759,0.0107,0.0151,0.0214,0.0302,0.0427,0.0603,0.0851,0.12,0.17,0.24,0.339,0.479,0.676,0.955],"range":["#0b111f","#070f30","#051244","#03195a","#01246c","#002d7c","#023b88","#0d559f","#1362a6","#1873b3","#1e82bb","#2290c4","#269bcc","#2aa3d0","#38bcef","#3bcfe9","#3fdcee","#43e8f3","#4af3f9","#57ffff"]}}}},{"data":{"values":[{"v":0.1,"t":"-1"},{"v":0.01,"t":"-2"}]},"mark":{"type":"text","align":"left","fontWeight":"bold","fontSize":14,"color":"#111","x":{"expr":"width"},"dx":26,"dy":-3},"encoding":{"y":{"field":"v","type":"quantitative"},"text":{"field":"t"}}}]}]}
